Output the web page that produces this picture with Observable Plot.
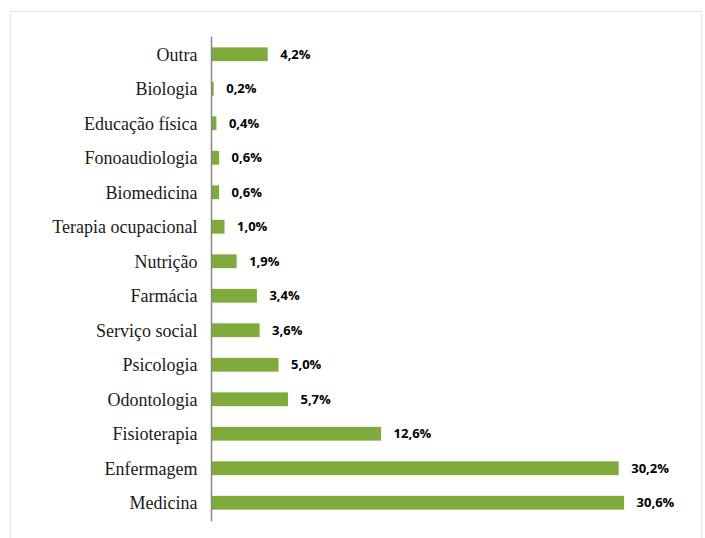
<!DOCTYPE html>
<html>
<head>
<meta charset="utf-8">
<script src="https://cdn.jsdelivr.net/npm/d3@7"></script>
<script src="https://cdn.jsdelivr.net/npm/@observablehq/plot@0.6"></script>
<style>
  html, body { margin: 0; padding: 0; background: #fff; }
  #wrap { position: relative; width: 705px; height: 538px; overflow: hidden; }
  #border { position: absolute; left: 10px; top: 11px; width: 692px; height: 600px; border: 1px solid #e4e4e4; box-sizing: border-box; }
  #chart { position: absolute; left: 0; top: 0; }
</style>
</head>
<body>
<div id="wrap"><div id="border"></div><div id="chart"></div></div>
<script>
const categories = ["Outra", "Biologia", "Educação física", "Fonoaudiologia", "Biomedicina", "Terapia ocupacional", "Nutrição", "Farmácia", "Serviço social", "Psicologia", "Odontologia", "Fisioterapia", "Enfermagem", "Medicina"];
const values = [4.2, 0.2, 0.4, 0.6, 0.6, 1.0, 1.9, 3.4, 3.6, 5.0, 5.7, 12.6, 30.2, 30.6];
const valueLabels = ["4,2%", "0,2%", "0,4%", "0,6%", "0,6%", "1,0%", "1,9%", "3,4%", "3,6%", "5,0%", "5,7%", "12,6%", "30,2%", "30,6%"];

const data = categories.map((c, i) => ({category: c, value: values[i], label: valueLabels[i]}));

const chart = Plot.plot({
  width: 705,
  height: 538,
  marginTop: 37,
  marginBottom: 18,
  marginLeft: 211,
  marginRight: 8,
  style: {background: "transparent"},
  x: {domain: [0, 36], axis: null},
  y: {domain: categories, paddingInner: 0.6, paddingOuter: 0.3, round: false, label: null},
  marks: [
    Plot.barX(data, {x: "value", y: "category", fill: "#7eab3c"}),
    Plot.text(data, {x: "value", y: "category", text: "label", textAnchor: "start", dx: 12,
      fontFamily: "Open Sans", fontWeight: "bold", fontSize: 13, fill: "#000"}),
    Plot.axisY({tickSize: 0, tickPadding: 14, fontFamily: "Liberation Serif", fontSize: 18, fill: "#1a1a1a", label: null}),
    Plot.frame({anchor: "left", stroke: "#888", strokeWidth: 1.5, strokeOpacity: 1})
  ]
});
document.getElementById("chart").appendChild(chart);
</script>
</body>
</html>
